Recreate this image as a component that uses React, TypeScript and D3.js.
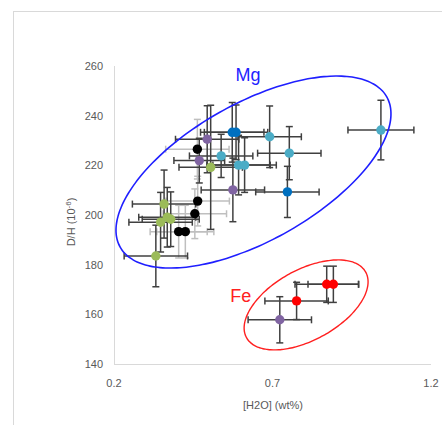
import { useEffect, useRef } from "react";
import * as d3 from "d3";

// [H2O] wt%, D/H (1e-6), x error, y error
const cyanPts = [
  [1.042, 234.2, 0.104, 12.0],
  [0.691, 231.5, 0.1, 12.4],
  [0.753, 224.9, 0.1, 10.7],
  [0.593, 220.1, 0.1, 12.0],
  [0.612, 220.1, 0.1, 11.0],
  [0.538, 223.8, 0.1, 8.7],
];
const darkBluePts = [
  [0.573, 233.3, 0.1, 12.0],
  [0.585, 233.3, 0.1, 11.0],
  [0.747, 209.3, 0.1, 10.3],
];
const purplePts = [
  [0.494, 230.5, 0.1, 13.5],
  [0.469, 221.9, 0.08, 9.0],
  [0.575, 210.1, 0.1, 12.8],
  [0.723, 157.8, 0.1, 9.3],
];
const greenPts = [
  [0.505, 219.2, 0.1, 25.0],
  [0.358, 204.4, 0.1, 13.7],
  [0.368, 199.1, 0.09, 12.0],
  [0.379, 198.3, 0.09, 11.0],
  [0.347, 197.1, 0.1, 12.0],
  [0.332, 183.5, 0.1, 12.4],
];
const blackPts = [
  [0.463, 226.5, 0.1, 12.0],
  [0.464, 205.6, 0.1, 10.0],
  [0.455, 200.5, 0.1, 10.0],
  [0.404, 193.3, 0.09, 10.6],
  [0.425, 193.3, 0.09, 10.6],
];
const redPts = [
  [0.776, 165.4, 0.1, 7.5],
  [0.871, 172.1, 0.1, 7.3],
  [0.892, 172.1, 0.08, 7.3],
];

const xTicks = [0.2, 0.7, 1.2];
const yTicks = [140, 160, 180, 200, 220, 240, 260];

// ellipses: center, major half-axis vector, minor half-axis vector (data units)
const mgEllipse = { cx: 0.64, cy: 217.3, ax: 0.4205, ay: 30.25, bx: 0.1063, by: -24.08 };
const feEllipse = { cx: 0.806, cy: 163.8, ax: 0.188, ay: 13.21, bx: 0.0536, by: -12.4 };

const SERIES = [
  { pts: blackPts, color: "#000000", bar: "#bfbfbf" },
  { pts: greenPts, color: "#9BBB59", bar: "#404040" },
  { pts: purplePts, color: "#8064A2", bar: "#404040" },
  { pts: cyanPts, color: "#4BACC6", bar: "#404040" },
  { pts: darkBluePts, color: "#0070C0", bar: "#404040" },
  { pts: redPts, color: "#FF0000", bar: "#404040" },
];

const FONT = "'Liberation Sans', Arial, sans-serif";

export default function App() {
  const svgRef = useRef<SVGSVGElement>(null);

  useEffect(() => {
    const svg = d3.select(svgRef.current);
    svg.selectAll("*").remove();

    const x = d3.scaleLinear().domain([0.2, 1.2]).range([114, 431]);
    const y = d3.scaleLinear().domain([140, 260]).range([364, 66]);

    // chart area border
    svg.append("rect")
      .attr("x", 13.5).attr("y", 11.5).attr("width", 440).attr("height", 420)
      .attr("fill", "white").attr("stroke", "#d9d9d9");

    // axes lines
    svg.append("line")
      .attr("x1", x(0.2)).attr("x2", x(1.2)).attr("y1", y(140) + 0.5).attr("y2", y(140) + 0.5)
      .attr("stroke", "#d9d9d9").attr("stroke-width", 1);
    svg.append("line")
      .attr("x1", x(0.2) + 0.5).attr("x2", x(0.2) + 0.5).attr("y1", y(140)).attr("y2", y(260))
      .attr("stroke", "#d9d9d9").attr("stroke-width", 1);

    svg.append("g").selectAll("text").data(yTicks).join("text")
      .attr("x", 103).attr("y", d => y(d) + 4)
      .attr("text-anchor", "end")
      .attr("font-family", FONT).attr("font-size", 11).attr("fill", "#595959")
      .text(d => d);

    svg.append("g").selectAll("text").data(xTicks).join("text")
      .attr("x", d => x(d)).attr("y", 387)
      .attr("text-anchor", "middle")
      .attr("font-family", FONT).attr("font-size", 11).attr("fill", "#595959")
      .text(d => d);

    svg.append("text")
      .attr("x", 273).attr("y", 409)
      .attr("text-anchor", "middle")
      .attr("font-family", FONT).attr("font-size", 11).attr("fill", "#595959")
      .text("[H2O] (wt%)");

    const yt = svg.append("text")
      .attr("transform", "translate(75,222) rotate(-90)")
      .attr("text-anchor", "middle")
      .attr("font-family", FONT).attr("font-size", 11).attr("fill", "#595959");
    yt.append("tspan").text("D/H (10");
    yt.append("tspan").attr("font-size", 8).attr("dy", -4).text("-6");
    yt.append("tspan").attr("dy", 4).text(")");

    // error bars
    const cap = 3.5;
    const bars = svg.append("g").attr("stroke-width", 1.5);
    SERIES.forEach(s => {
      s.pts.forEach(([vx, vy, ex, ey]) => {
        const g = bars.append("g").attr("stroke", s.bar);
        const px = x(vx), py = y(vy);
        const x0 = x(vx - ex), x1 = x(vx + ex), y0 = y(vy - ey), y1 = y(vy + ey);
        g.append("line").attr("x1", x0).attr("x2", x1).attr("y1", py).attr("y2", py);
        g.append("line").attr("x1", x0).attr("x2", x0).attr("y1", py - cap).attr("y2", py + cap);
        g.append("line").attr("x1", x1).attr("x2", x1).attr("y1", py - cap).attr("y2", py + cap);
        g.append("line").attr("x1", px).attr("x2", px).attr("y1", y0).attr("y2", y1);
        g.append("line").attr("x1", px - cap).attr("x2", px + cap).attr("y1", y0).attr("y2", y0);
        g.append("line").attr("x1", px - cap).attr("x2", px + cap).attr("y1", y1).attr("y2", y1);
      });
    });

    // markers
    SERIES.forEach(s => {
      svg.append("g").selectAll("circle").data(s.pts).join("circle")
        .attr("cx", d => x(d[0])).attr("cy", d => y(d[1]))
        .attr("r", 4.7).attr("fill", s.color);
    });

    // ellipses
    const ellipsePath = (e: typeof mgEllipse) => {
      const pts = d3.range(0, 360, 3).map(deg => {
        const t = (deg * Math.PI) / 180;
        return [
          x(e.cx + Math.cos(t) * e.ax + Math.sin(t) * e.bx),
          y(e.cy + Math.cos(t) * e.ay + Math.sin(t) * e.by),
        ] as [number, number];
      });
      return d3.line().curve(d3.curveCardinalClosed)(pts);
    };
    svg.append("path").attr("d", ellipsePath(mgEllipse))
      .attr("fill", "none").attr("stroke", "#1f1fff").attr("stroke-width", 1.6);
    svg.append("path").attr("d", ellipsePath(feEllipse))
      .attr("fill", "none").attr("stroke", "#ff2020").attr("stroke-width", 1.4);

    svg.append("text")
      .attr("x", x(0.623)).attr("y", y(254))
      .attr("text-anchor", "middle")
      .attr("font-family", FONT).attr("font-size", 18).attr("fill", "#1f1fff")
      .text("Mg");
    svg.append("text")
      .attr("x", x(0.6)).attr("y", y(164.8))
      .attr("text-anchor", "middle")
      .attr("font-family", FONT).attr("font-size", 18).attr("fill", "#ff2020")
      .text("Fe");
  }, []);

  return (
    <svg
      ref={svgRef}
      width={442}
      height={425}
      style={{ position: "absolute", left: 0, top: 0, display: "block" }}
    />
  );
}
